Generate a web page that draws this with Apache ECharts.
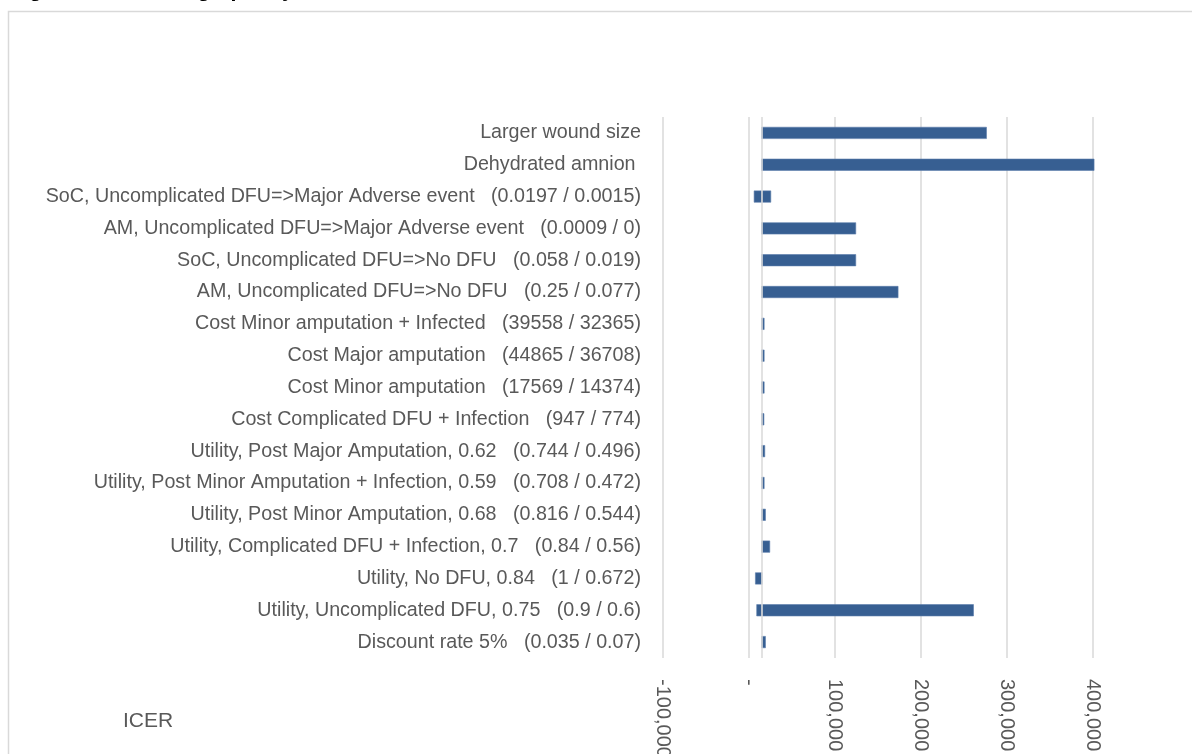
<!DOCTYPE html>
<html>
<head>
<meta charset="utf-8">
<style>
html, body { margin: 0; padding: 0; background: #fff; }
#chart_1 { width: 1192px; height: 754px; }
</style>
<script src="https://cdn.jsdelivr.net/npm/echarts@6/dist/echarts.min.js"></script>
</head>
<body>
<div id="chart_1"></div>
<script>
// parameters, top to bottom
var categoryNames = [
  'Larger wound size',
  'Dehydrated amnion ',
  'SoC, Uncomplicated DFU=>Major Adverse event   (0.0197 / 0.0015)',
  'AM, Uncomplicated DFU=>Major Adverse event   (0.0009 / 0)',
  'SoC, Uncomplicated DFU=>No DFU   (0.058 / 0.019)',
  'AM, Uncomplicated DFU=>No DFU   (0.25 / 0.077)',
  'Cost Minor amputation + Infected   (39558 / 32365)',
  'Cost Major amputation   (44865 / 36708)',
  'Cost Minor amputation   (17569 / 14374)',
  'Cost Complicated DFU + Infection   (947 / 774)',
  'Utility, Post Major Amputation, 0.62   (0.744 / 0.496)',
  'Utility, Post Minor Amputation + Infection, 0.59   (0.708 / 0.472)',
  'Utility, Post Minor Amputation, 0.68   (0.816 / 0.544)',
  'Utility, Complicated DFU + Infection, 0.7   (0.84 / 0.56)',
  'Utility, No DFU, 0.84   (1 / 0.672)',
  'Utility, Uncomplicated DFU, 0.75   (0.9 / 0.6)',
  'Discount rate 5%   (0.035 / 0.07)'
];
// base case ICER, bars are drawn from here
var baseIcer = 15000;
var lowIcer = [15000, 15000, 5600, 15000, 15000, 15000, 15000, 15000, 15000,
  15000, 15000, 15000, 15000, 15000, 7100, 8600, 15000];
var highIcer = [276500, 401600, 25700, 124500, 124500, 173700, 18000, 18000, 18000,
  17700, 18700, 18000, 19500, 24500, 15000, 261400, 19500];
var xTickValues = [-100000, 0, 100000, 200000, 300000, 400000];

var fontName = '"Liberation Sans", Arial, sans-serif';
var barColor = '#375f92';

function offsets(arr) {
  return arr.map(function (v) { return v - baseIcer; });
}
var baseArr = categoryNames.map(function () { return baseIcer; });

var chart = echarts.init(document.getElementById('chart_1'), null, { renderer: 'canvas' });

var barStyle = {
  color: barColor,
  borderColor: '#5a7cab',
  borderWidth: 0.6
};

chart.setOption({
  animation: false,
  backgroundColor: '#ffffff',
  textStyle: { fontFamily: fontName },
  grid: {
    left: 663,
    right: 99,
    top: 117,
    bottom: 96,
    containLabel: false,
    outerBoundsMode: 'none'
  },
  xAxis: {
    type: 'value',
    min: xTickValues[0],
    max: xTickValues[xTickValues.length - 1],
    interval: xTickValues[1] - xTickValues[0],
    axisLine: { show: false },
    axisTick: { show: false },
    splitLine: {
      show: true,
      lineStyle: { color: '#d9d9d9', width: 1.5 }
    },
    axisLabel: {
      rotate: -90,
      margin: 21,
      fontSize: 20,
      color: '#595959',
      fontFamily: fontName,
      formatter: function (v) {
        if (v === 0) return '-';
        return v.toLocaleString('en-US');
      }
    }
  },
  yAxis: {
    type: 'category',
    data: categoryNames,
    inverse: true,
    axisLine: { show: false, onZero: false },
    axisTick: { show: false },
    splitLine: { show: false },
    axisLabel: {
      margin: 22,
      fontSize: 19.7,
      color: '#595959',
      fontFamily: fontName,
      padding: [6, 0, 0, 0]
    }
  },
  graphic: [
    {
      type: 'rect',
      silent: true,
      z: -10,
      shape: { x: 8.5, y: 11.5, width: 1300, height: 900 },
      style: { fill: 'none', stroke: '#d9d9d9', lineWidth: 1.5 }
    },
    {
      type: 'text',
      silent: true,
      left: 10,
      top: -21,
      style: {
        text: 'Figure 5: Tornado graph, by ICER',
        font: 'bold 21.5px ' + fontName,
        fill: '#000000'
      }
    },
    {
      type: 'text',
      silent: true,
      left: 123,
      top: 711,
      style: {
        text: 'ICER',
        font: '21px ' + fontName,
        fill: '#595959'
      }
    }
  ],
  series: [
    {
      name: 'baseLow',
      type: 'bar',
      stack: 'low',
      stackStrategy: 'all',
      barWidth: 12,
      barGap: '-100%',
      silent: true,
      itemStyle: { color: 'rgba(0,0,0,0)' },
      data: baseArr
    },
    {
      name: 'Low',
      type: 'bar',
      stack: 'low',
      stackStrategy: 'all',
      barWidth: 12,
      barGap: '-100%',
      itemStyle: barStyle,
      data: offsets(lowIcer)
    },
    {
      name: 'baseHigh',
      type: 'bar',
      stack: 'high',
      stackStrategy: 'all',
      barWidth: 12,
      barGap: '-100%',
      silent: true,
      itemStyle: { color: 'rgba(0,0,0,0)' },
      data: baseArr
    },
    {
      name: 'High',
      type: 'bar',
      stack: 'high',
      stackStrategy: 'all',
      barWidth: 12,
      barGap: '-100%',
      clip: false,
      itemStyle: barStyle,
      data: offsets(highIcer),
      markLine: {
        silent: true,
        symbol: 'none',
        label: { show: false },
        lineStyle: { color: '#d9d9d9', width: 1.5, type: 'solid' },
        data: [{ xAxis: baseIcer }]
      }
    }
  ]
});
</script>
</body>
</html>
